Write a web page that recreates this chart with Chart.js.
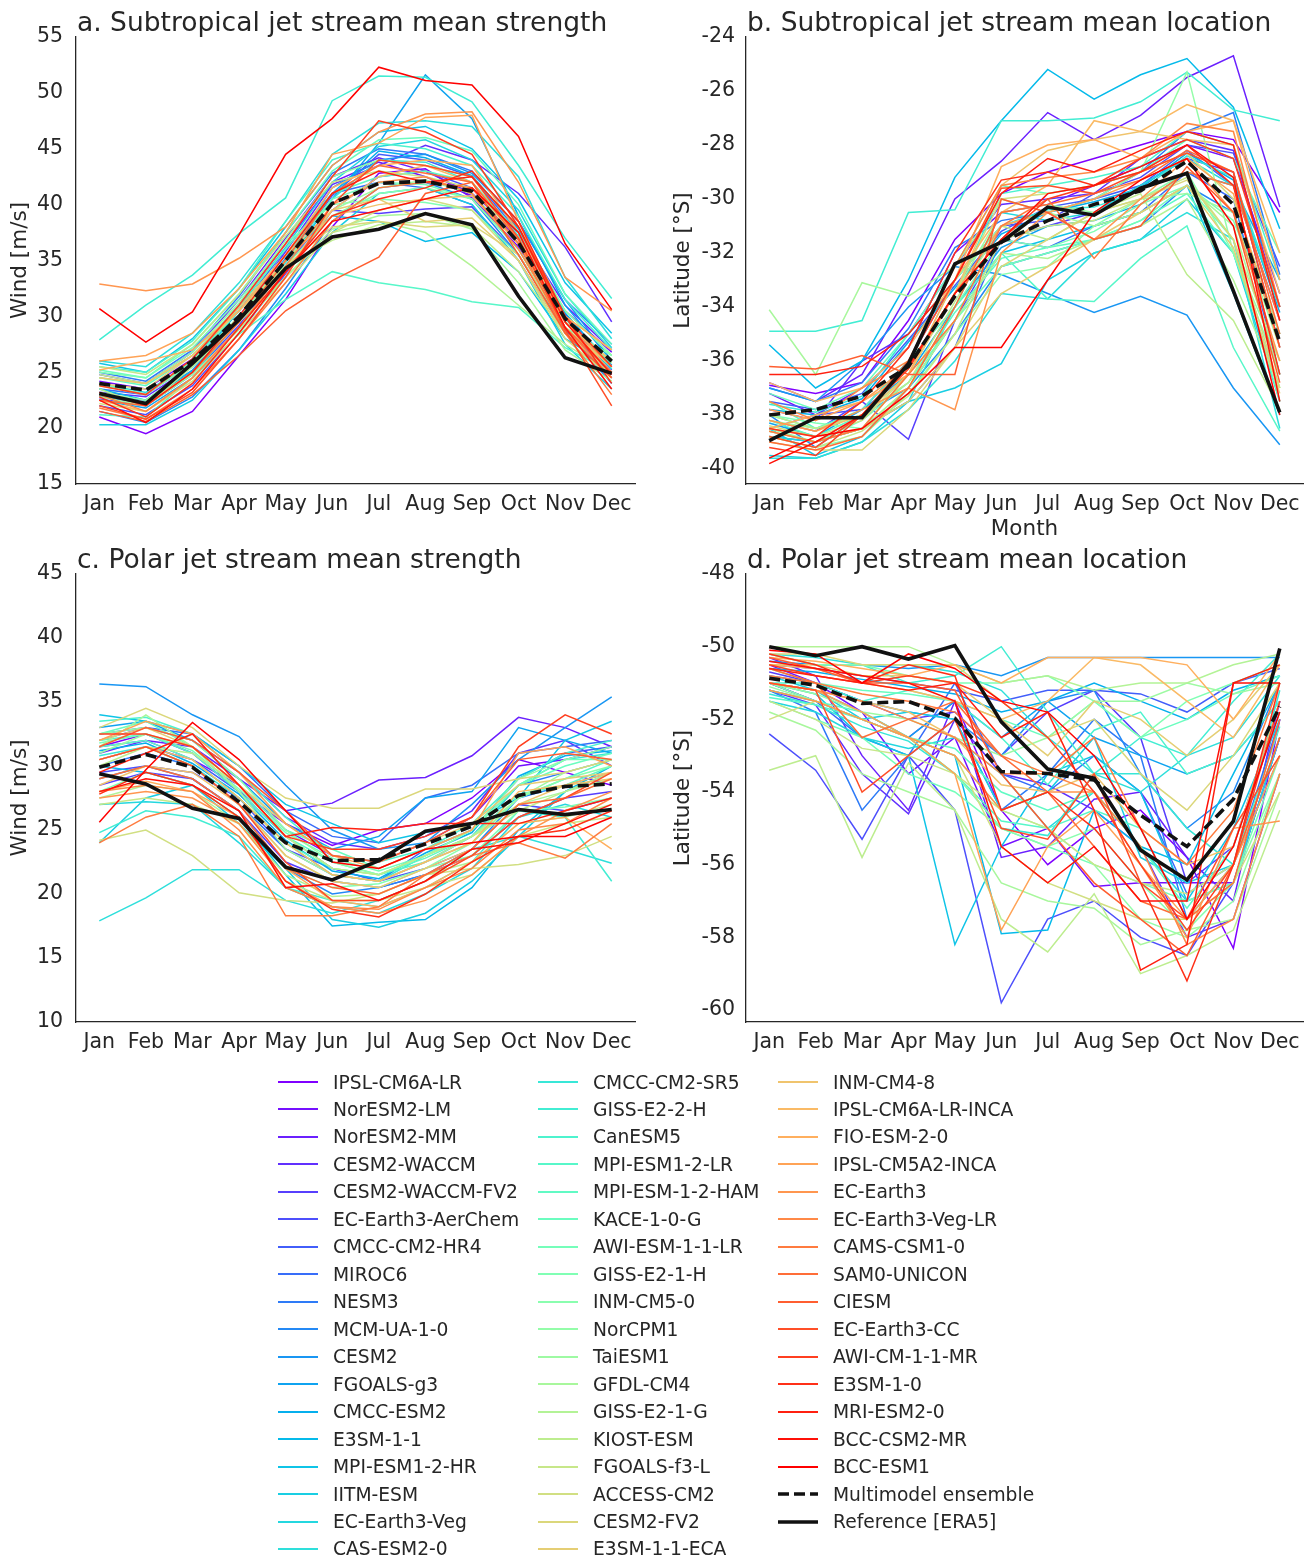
<!DOCTYPE html>
<html>
<head>
<meta charset="utf-8">
<script src="https://cdn.jsdelivr.net/npm/chart.js@4.4.1/dist/chart.umd.min.js"></script>
<style>
  body { margin: 0; background: #fff; width: 1314px; height: 1559px; position: relative; overflow: hidden; font-family: "DejaVu Sans", sans-serif; color: #262626; }
  canvas { position: absolute; }
  .row { position: absolute; height: 26px; display: flex; align-items: center; font-size: 18.7px; white-space: nowrap; }
  .row svg { margin-right: 15px; }
</style>
</head>
<body>
<canvas id="pa" width="660" height="540" style="left:0;top:0"></canvas>
<canvas id="pb" width="654" height="542" style="left:660px;top:0"></canvas>
<canvas id="pc" width="660" height="548" style="left:0;top:530px"></canvas>
<canvas id="pd" width="654" height="548" style="left:660px;top:530px"></canvas>
<div id="legend"></div>
<script>
const months = ['Jan', 'Feb', 'Mar', 'Apr', 'May', 'Jun', 'Jul', 'Aug', 'Sep', 'Oct', 'Nov', 'Dec']

const models = ['IPSL-CM6A-LR', 'NorESM2-LM', 'NorESM2-MM', 'CESM2-WACCM', 'CESM2-WACCM-FV2', 'EC-Earth3-AerChem',
  'CMCC-CM2-HR4', 'MIROC6', 'NESM3', 'MCM-UA-1-0', 'CESM2', 'FGOALS-g3', 'CMCC-ESM2', 'E3SM-1-1', 'MPI-ESM1-2-HR',
  'IITM-ESM', 'EC-Earth3-Veg', 'CAS-ESM2-0', 'CMCC-CM2-SR5', 'GISS-E2-2-H', 'CanESM5', 'MPI-ESM1-2-LR',
  'MPI-ESM-1-2-HAM', 'KACE-1-0-G', 'AWI-ESM-1-1-LR', 'GISS-E2-1-H', 'INM-CM5-0', 'NorCPM1', 'TaiESM1', 'GFDL-CM4',
  'GISS-E2-1-G', 'KIOST-ESM', 'FGOALS-f3-L', 'ACCESS-CM2', 'CESM2-FV2', 'E3SM-1-1-ECA', 'INM-CM4-8',
  'IPSL-CM6A-LR-INCA', 'FIO-ESM-2-0', 'IPSL-CM5A2-INCA', 'EC-Earth3', 'EC-Earth3-Veg-LR', 'CAMS-CSM1-0',
  'SAM0-UNICON', 'CIESM', 'EC-Earth3-CC', 'AWI-CM-1-1-MR', 'E3SM-1-0', 'MRI-ESM2-0', 'BCC-CSM2-MR', 'BCC-ESM1']

// a. subtropical jet strength [m/s], one row per model
const subStrength = [
  [21.0, 19.5, 21.5, 26.5, 31.5, 38.0, 42.8, 43.2, 40.6, 36.2, 30.2, 25.6],
  [24.2, 23.5, 26.2, 31.0, 36.5, 42.0, 43.8, 42.5, 40.8, 37.0, 30.5, 26.8],
  [24.8, 24.0, 26.8, 31.5, 37.0, 42.5, 44.2, 43.0, 41.0, 37.5, 31.0, 27.0],
  [23.2, 22.8, 25.5, 30.0, 35.8, 41.8, 43.5, 45.3, 44.0, 41.0, 36.2, 29.5],
  [22.6, 22.0, 24.8, 29.2, 34.5, 39.5, 39.2, 39.6, 39.8, 35.5, 29.0, 24.8],
  [22.0, 21.2, 23.8, 28.5, 33.8, 39.5, 42.5, 43.0, 41.5, 36.5, 29.5, 25.2],
  [22.8, 22.2, 25.0, 29.8, 35.0, 40.8, 44.5, 44.0, 42.5, 37.5, 30.0, 25.5],
  [23.5, 23.0, 25.8, 30.5, 36.0, 41.0, 42.0, 41.5, 40.0, 35.0, 28.5, 24.5],
  [25.0, 24.2, 27.0, 31.8, 37.5, 42.8, 45.0, 44.5, 43.0, 38.5, 31.5, 27.5],
  [21.5, 20.5, 22.8, 27.0, 32.5, 38.5, 41.5, 42.0, 40.5, 35.5, 28.8, 24.0],
  [23.0, 22.5, 25.2, 29.8, 35.2, 41.5, 44.0, 44.5, 42.8, 38.5, 31.5, 26.0],
  [22.5, 21.8, 24.5, 29.0, 34.5, 40.5, 45.5, 51.6, 47.7, 39.0, 31.0, 26.0],
  [22.9, 22.3, 25.1, 29.9, 35.1, 41.0, 44.8, 44.2, 42.6, 37.8, 30.3, 25.6],
  [23.5, 22.5, 25.5, 30.5, 35.5, 39.0, 38.5, 36.7, 37.5, 34.0, 28.0, 25.5],
  [25.8, 25.0, 28.0, 32.5, 38.0, 43.5, 46.5, 47.0, 45.0, 40.5, 33.0, 28.5],
  [20.3, 20.3, 22.5, 27.0, 32.0, 37.5, 41.0, 41.5, 40.0, 35.0, 27.5, 23.5],
  [24.0, 23.2, 26.0, 30.8, 36.2, 42.0, 45.2, 45.8, 44.0, 39.5, 32.0, 27.2],
  [26.0, 25.5, 28.5, 33.0, 38.5, 44.5, 47.3, 47.5, 47.0, 42.5, 33.5, 28.0],
  [22.5, 22.0, 24.8, 29.5, 34.8, 40.5, 44.0, 43.8, 42.0, 37.2, 29.8, 25.3],
  [27.9, 31.0, 33.7, 37.4, 40.6, 49.3, 51.5, 51.4, 49.2, 43.5, 37.0, 31.6],
  [25.5, 25.0, 27.8, 32.5, 38.5, 44.0, 45.5, 45.0, 43.5, 39.0, 31.5, 27.0],
  [21.2, 21.0, 24.5, 28.4, 31.5, 34.0, 33.0, 32.4, 31.3, 30.8, 27.2, 25.0],
  [24.5, 23.8, 26.5, 31.0, 36.0, 41.0, 42.5, 43.0, 42.0, 37.5, 30.5, 26.5],
  [25.2, 24.5, 27.5, 32.0, 37.5, 43.0, 45.8, 46.0, 44.8, 40.0, 32.0, 27.5],
  [24.0, 23.0, 26.0, 30.5, 35.5, 40.5, 42.0, 41.8, 40.5, 36.0, 29.5, 26.0],
  [25.0, 24.5, 27.2, 31.5, 36.5, 40.0, 40.5, 40.2, 39.5, 35.5, 29.0, 26.5],
  [23.8, 23.0, 25.8, 30.0, 34.5, 39.0, 41.0, 41.5, 40.5, 36.0, 29.0, 25.5],
  [24.5, 24.0, 26.8, 31.2, 36.8, 42.5, 44.0, 43.5, 42.5, 38.0, 30.5, 26.5],
  [23.2, 22.5, 25.5, 30.0, 35.0, 39.5, 41.5, 42.2, 41.0, 36.5, 29.5, 25.8],
  [22.8, 22.0, 24.8, 28.8, 33.5, 37.8, 39.0, 39.2, 37.8, 33.0, 27.0, 24.2],
  [23.5, 22.0, 25.5, 29.5, 33.5, 37.5, 38.5, 37.5, 34.5, 31.0, 27.5, 25.0],
  [24.8, 24.0, 26.5, 30.5, 34.5, 36.8, 38.2, 38.5, 38.0, 34.0, 28.5, 26.2],
  [25.5, 24.8, 27.5, 32.0, 37.2, 42.0, 43.0, 42.5, 41.5, 37.0, 30.0, 27.0],
  [22.2, 21.5, 24.2, 28.5, 33.0, 37.5, 39.5, 40.5, 39.5, 35.0, 28.0, 24.5],
  [23.0, 22.2, 25.0, 29.5, 34.5, 38.0, 38.5, 38.0, 38.2, 35.5, 29.0, 25.5],
  [24.0, 23.5, 26.5, 30.8, 35.5, 39.5, 40.5, 38.5, 38.8, 35.0, 28.5, 25.0],
  [24.5, 24.0, 26.5, 30.5, 35.0, 39.0, 40.0, 40.5, 40.8, 36.5, 29.5, 26.0],
  [22.5, 21.5, 24.5, 29.0, 34.0, 39.5, 42.5, 43.5, 42.0, 37.0, 29.5, 25.0],
  [25.2, 26.0, 27.0, 30.5, 35.5, 41.5, 43.5, 44.0, 43.5, 37.5, 30.0, 27.0],
  [26.0, 26.5, 28.5, 32.5, 37.5, 44.5, 45.5, 47.8, 48.0, 38.5, 29.5, 25.5],
  [32.9, 32.3, 32.9, 35.2, 38.0, 43.5, 46.5, 48.1, 48.3, 42.0, 33.5, 30.5],
  [23.0, 21.5, 24.5, 29.0, 34.5, 40.0, 42.0, 42.5, 41.0, 36.0, 29.0, 24.5],
  [21.8, 20.8, 23.5, 28.0, 33.0, 38.5, 41.5, 42.0, 41.5, 36.5, 28.5, 23.0],
  [22.5, 22.0, 25.0, 29.5, 35.0, 41.0, 43.5, 42.8, 42.0, 36.8, 29.0, 25.0],
  [21.5, 20.6, 23.0, 26.5, 30.5, 33.2, 35.3, 41.0, 42.0, 35.5, 28.5, 24.5],
  [22.0, 20.8, 23.2, 28.0, 33.5, 40.0, 44.0, 43.5, 42.5, 37.0, 28.8, 22.0],
  [23.8, 23.0, 26.2, 31.0, 36.5, 42.5, 47.5, 46.5, 44.5, 38.0, 30.0, 25.5],
  [22.8, 21.0, 24.0, 29.0, 34.0, 39.0, 40.5, 41.5, 43.0, 38.5, 30.0, 24.0],
  [23.2, 22.0, 25.0, 30.0, 35.5, 41.0, 43.0, 42.0, 42.5, 38.0, 29.5, 24.8],
  [22.5, 20.5, 23.5, 28.5, 34.0, 38.5, 39.5, 40.5, 41.5, 37.5, 29.0, 23.5],
  [30.7, 27.7, 30.4, 37.3, 44.5, 47.7, 52.3, 51.1, 50.7, 46.1, 36.5, 30.6]
]
const subStrengthMME = [24.0, 23.4, 26.0, 30.0, 35.0, 40.1, 41.9, 42.1, 41.2, 36.6, 29.8, 26.0]
const subStrengthERA5 = [23.1, 22.2, 25.8, 29.7, 34.3, 37.1, 37.8, 39.2, 38.2, 31.8, 26.3, 24.9]

// b. subtropical jet latitude [°S]
const subLocation = [
  [-36.9, -37.2, -36.8, -34.5, -31.5, -29.8, -29.0, -28.5, -28.0, -27.5, -27.8, -30.5],
  [-37.2, -38.0, -37.0, -35.5, -32.0, -30.5, -30.2, -29.5, -28.8, -28.0, -28.5, -33.5],
  [-36.8, -37.5, -36.5, -33.5, -30.0, -28.6, -26.8, -27.8, -26.9, -25.5, -24.7, -30.3],
  [-37.8, -38.2, -36.0, -35.0, -32.5, -30.2, -30.0, -29.8, -28.5, -27.8, -28.2, -34.0],
  [-38.2, -38.6, -37.5, -38.9, -34.5, -31.5, -31.0, -30.5, -29.5, -28.5, -29.0, -35.5],
  [-38.5, -38.0, -37.8, -36.0, -33.0, -31.0, -30.8, -29.8, -29.2, -28.0, -28.3, -32.5],
  [-37.5, -37.8, -37.2, -35.2, -33.2, -31.2, -30.3, -30.0, -29.5, -28.2, -29.5, -34.5],
  [-38.8, -39.0, -38.5, -37.5, -35.5, -31.5, -31.8, -31.0, -30.5, -29.0, -30.0, -36.5],
  [-37.0, -37.5, -36.8, -34.8, -31.8, -30.8, -30.5, -30.0, -29.0, -27.5, -26.8, -32.8],
  [-38.0, -39.2, -38.0, -37.0, -35.0, -32.5, -32.0, -31.5, -31.0, -29.5, -30.5, -35.0],
  [-37.0, -37.5, -36.0, -34.0, -32.5, -32.8, -33.5, -34.2, -33.6, -34.3, -37.0, -39.1],
  [-38.3, -38.8, -37.8, -36.5, -34.0, -31.8, -31.0, -30.8, -30.2, -29.0, -29.5, -33.0],
  [-37.8, -38.0, -37.4, -35.3, -33.3, -31.3, -30.5, -30.1, -29.6, -28.3, -29.3, -34.2],
  [-35.4, -37.0, -36.0, -33.0, -29.2, -27.1, -25.2, -26.3, -25.4, -24.8, -26.6, -31.1],
  [-38.5, -39.5, -38.8, -37.0, -34.5, -32.0, -31.5, -31.0, -30.5, -29.5, -33.5, -38.0],
  [-39.5, -39.6, -39.0, -37.5, -37.0, -36.1, -33.0, -32.0, -31.5, -30.0, -32.0, -37.5],
  [-38.8, -39.0, -38.5, -37.5, -34.0, -30.5, -30.8, -30.5, -29.5, -28.5, -29.5, -34.0],
  [-39.6, -39.6, -39.0, -37.8, -36.0, -33.5, -33.7, -32.0, -31.5, -30.5, -31.5, -38.5],
  [-37.6, -37.9, -37.3, -35.0, -33.0, -31.0, -30.4, -30.3, -29.7, -28.4, -29.2, -34.0],
  [-34.9, -34.9, -34.5, -30.5, -30.4, -27.1, -27.1, -27.0, -26.4, -25.3, -26.7, -27.1],
  [-38.0, -38.5, -38.0, -36.5, -33.5, -29.8, -29.5, -29.2, -28.8, -27.5, -28.0, -33.0],
  [-37.5, -38.5, -37.8, -36.0, -34.0, -32.0, -33.7, -33.8, -32.2, -31.0, -35.5, -38.6],
  [-38.2, -38.8, -38.0, -36.8, -34.2, -32.2, -31.8, -31.5, -30.8, -29.8, -32.0, -37.0],
  [-37.2, -37.8, -37.0, -35.0, -32.5, -29.5, -29.8, -29.5, -29.0, -27.8, -28.5, -32.0],
  [-38.6, -39.0, -38.2, -36.8, -34.5, -32.5, -32.0, -31.5, -30.8, -29.5, -31.5, -37.5],
  [-38.0, -38.3, -38.5, -37.0, -34.0, -31.5, -31.8, -31.2, -30.2, -29.5, -30.8, -35.0],
  [-38.8, -39.2, -38.8, -37.2, -35.0, -32.8, -32.5, -31.0, -30.0, -29.0, -32.0, -36.5],
  [-38.5, -39.0, -38.5, -36.5, -33.0, -31.0, -30.5, -30.0, -29.0, -25.3, -32.0, -36.0],
  [-38.2, -38.5, -38.0, -36.2, -33.5, -30.5, -30.2, -30.5, -30.0, -29.8, -30.5, -35.5],
  [-34.1, -36.5, -33.1, -33.6, -32.5, -30.0, -30.5, -31.0, -30.5, -29.5, -31.0, -36.5],
  [-38.5, -38.8, -38.5, -37.0, -34.5, -32.0, -32.2, -31.5, -31.0, -30.0, -33.0, -37.0],
  [-38.0, -38.5, -38.0, -36.8, -33.8, -31.0, -31.5, -30.5, -29.8, -32.8, -34.5, -37.8],
  [-38.8, -39.2, -38.6, -37.3, -35.0, -31.5, -31.0, -30.8, -30.0, -29.2, -31.5, -36.0],
  [-38.4, -38.8, -38.2, -36.5, -33.5, -30.0, -29.8, -29.5, -29.0, -28.3, -30.0, -35.0],
  [-39.0, -39.3, -39.3, -37.8, -35.5, -32.5, -31.5, -30.5, -30.0, -29.3, -31.5, -37.0],
  [-38.6, -39.0, -38.5, -37.5, -35.5, -33.5, -32.5, -31.5, -30.5, -29.5, -31.8, -37.2],
  [-38.2, -38.6, -38.0, -36.5, -33.5, -29.5, -28.2, -27.8, -27.5, -27.8, -28.0, -33.5],
  [-36.8, -37.5, -37.0, -35.5, -33.0, -30.5, -29.5, -27.1, -27.5, -26.5, -27.1, -32.0],
  [-38.5, -38.0, -37.5, -36.5, -33.0, -28.8, -28.0, -27.8, -28.5, -27.5, -27.1, -33.0],
  [-37.8, -38.2, -37.5, -36.2, -33.5, -31.0, -30.5, -30.0, -29.3, -28.5, -29.8, -35.5],
  [-38.2, -38.6, -37.8, -37.0, -37.8, -32.0, -30.5, -31.5, -30.0, -28.5, -30.5, -36.0],
  [-37.5, -38.2, -37.0, -36.0, -32.5, -29.5, -29.2, -29.0, -28.5, -27.2, -27.5, -34.0],
  [-38.6, -39.0, -38.5, -36.5, -34.5, -31.0, -30.0, -32.2, -30.2, -29.0, -29.5, -34.5],
  [-39.0, -39.3, -38.8, -37.0, -34.0, -30.5, -30.2, -29.8, -29.3, -28.2, -29.0, -35.0],
  [-36.2, -36.3, -35.8, -36.5, -36.5, -30.0, -30.5, -31.5, -31.0, -28.8, -30.5, -36.8],
  [-38.8, -39.2, -38.0, -36.0, -33.0, -29.6, -29.5, -29.8, -29.0, -28.3, -29.0, -35.5],
  [-39.2, -39.5, -38.0, -36.3, -33.5, -31.5, -30.0, -29.5, -28.5, -27.8, -28.5, -34.0],
  [-38.5, -38.8, -37.5, -35.5, -32.0, -29.3, -29.0, -29.5, -29.0, -28.0, -29.5, -36.5],
  [-36.5, -36.5, -36.2, -35.0, -33.0, -29.8, -28.5, -29.0, -28.2, -27.5, -28.0, -34.5],
  [-39.8, -39.0, -38.0, -36.2, -33.5, -31.5, -29.8, -29.5, -28.8, -28.0, -29.2, -37.5],
  [-39.6, -38.8, -38.5, -37.2, -35.5, -35.5, -33.0, -30.5, -29.3, -28.5, -31.0, -38.0]
]
const subLocationMME = [-38.0, -37.8, -37.3, -36.2, -33.6, -31.6, -30.8, -30.2, -29.7, -28.6, -30.2, -35.3]
const subLocationERA5 = [-38.95, -38.1, -38.1, -36.1, -32.4, -31.6, -30.3, -30.6, -29.6, -29.05, -33.4, -37.9]

// c. polar jet strength [m/s]
const polStrength = [
  [31.5, 32.5, 31.0, 28.0, 25.5, 23.8, 25.0, 25.5, 27.5, 30.5, 29.5, 28.5],
  [30.5, 31.5, 30.5, 28.5, 25.0, 23.0, 22.5, 24.0, 26.0, 30.0, 30.5, 31.5],
  [31.0, 32.0, 31.5, 29.0, 26.5, 27.1, 28.9, 29.1, 30.8, 33.8, 33.0, 31.5],
  [32.0, 33.0, 32.0, 29.5, 26.0, 24.0, 23.5, 24.5, 26.5, 31.0, 32.0, 30.0],
  [28.5, 29.5, 29.0, 26.5, 22.5, 21.0, 20.5, 21.5, 23.0, 26.0, 27.5, 28.0],
  [29.5, 30.0, 29.5, 27.5, 23.5, 22.0, 21.0, 22.0, 23.5, 27.0, 26.5, 27.5],
  [31.5, 32.0, 30.5, 28.0, 24.5, 22.0, 21.0, 23.5, 25.0, 29.0, 31.0, 31.5],
  [32.5, 33.0, 32.5, 30.0, 26.5, 24.5, 24.0, 27.5, 28.5, 31.0, 31.5, 32.0],
  [30.0, 31.0, 30.0, 27.0, 23.5, 21.5, 21.0, 22.5, 24.5, 28.5, 29.5, 30.5],
  [29.0, 30.0, 29.0, 26.5, 22.0, 20.0, 20.5, 21.5, 23.5, 27.5, 28.5, 29.5],
  [36.4, 36.2, 34.0, 32.3, 28.5, 25.0, 23.5, 24.0, 27.0, 30.5, 33.0, 35.4],
  [33.0, 33.5, 32.0, 29.0, 25.5, 23.5, 24.5, 27.5, 28.0, 33.0, 32.0, 31.0],
  [31.2, 31.8, 30.2, 27.8, 24.2, 21.8, 21.2, 23.2, 24.8, 29.2, 30.8, 31.2],
  [30.0, 29.5, 28.5, 26.0, 21.5, 17.5, 17.8, 18.0, 20.5, 25.0, 28.0, 30.0],
  [34.0, 33.5, 32.5, 30.0, 27.0, 25.5, 24.0, 24.8, 25.5, 27.5, 32.0, 33.5],
  [24.0, 27.5, 28.5, 25.5, 22.0, 18.0, 17.4, 18.5, 21.0, 24.5, 28.0, 29.5],
  [27.0, 27.2, 27.0, 24.0, 20.5, 19.0, 18.5, 20.0, 22.0, 26.0, 27.0, 26.0],
  [17.9, 19.7, 21.9, 21.9, 19.5, 18.5, 19.5, 21.0, 23.5, 24.5, 23.5, 22.4],
  [30.8, 31.5, 30.0, 27.5, 24.0, 21.5, 21.0, 23.0, 24.5, 28.5, 30.5, 31.0],
  [24.8, 26.5, 26.0, 24.5, 20.5, 19.5, 19.0, 20.5, 22.5, 26.5, 26.0, 21.0],
  [33.5, 33.8, 32.5, 29.5, 26.0, 23.0, 22.5, 23.5, 25.5, 29.0, 31.0, 32.0],
  [32.0, 32.5, 31.0, 28.0, 24.5, 22.5, 21.5, 22.5, 24.0, 27.5, 29.0, 30.5],
  [31.5, 32.0, 30.5, 27.5, 24.0, 22.0, 21.5, 22.8, 24.5, 27.8, 28.5, 30.0],
  [32.5, 33.5, 31.5, 28.5, 25.0, 23.5, 22.0, 23.5, 25.0, 28.5, 30.0, 31.0],
  [31.8, 32.5, 31.2, 28.2, 24.8, 22.8, 21.8, 23.0, 25.0, 28.5, 30.5, 30.5],
  [28.0, 29.5, 28.5, 26.0, 22.0, 20.5, 20.8, 22.0, 23.0, 26.5, 26.8, 27.5],
  [30.5, 31.5, 30.0, 27.0, 23.0, 21.0, 20.5, 22.0, 24.0, 27.5, 29.0, 30.0],
  [32.5, 33.0, 32.0, 29.0, 25.0, 22.5, 21.5, 23.0, 25.0, 29.0, 30.5, 31.5],
  [31.0, 32.5, 31.5, 28.5, 24.5, 22.0, 21.5, 23.0, 24.5, 27.5, 29.5, 30.5],
  [31.5, 34.0, 31.5, 28.0, 23.5, 21.5, 21.0, 22.5, 24.5, 27.0, 28.0, 29.0],
  [27.5, 28.5, 28.0, 25.5, 21.5, 19.8, 20.0, 21.5, 22.5, 25.5, 26.0, 27.0],
  [30.0, 31.5, 31.0, 28.5, 24.5, 22.0, 21.5, 23.0, 24.5, 26.5, 28.0, 29.5],
  [27.0, 27.5, 27.0, 25.5, 21.0, 19.5, 19.5, 20.5, 21.5, 24.5, 25.5, 26.0],
  [24.2, 25.0, 23.0, 20.1, 19.5, 19.3, 20.0, 21.5, 22.0, 22.3, 23.0, 24.5],
  [33.0, 34.5, 33.0, 30.0, 27.5, 26.7, 26.7, 28.2, 28.2, 29.0, 29.5, 30.5],
  [32.0, 33.0, 31.5, 28.5, 25.5, 23.0, 22.5, 24.0, 25.5, 28.5, 29.0, 29.5],
  [28.5, 30.0, 29.5, 27.0, 23.0, 21.0, 20.5, 22.0, 23.5, 27.0, 28.5, 29.0],
  [30.5, 31.5, 30.5, 27.5, 24.0, 21.5, 21.0, 22.5, 24.0, 28.0, 28.5, 29.5],
  [28.0, 28.8, 28.0, 26.0, 22.0, 19.5, 19.0, 20.5, 22.5, 25.5, 26.0, 23.5],
  [32.0, 33.5, 32.5, 29.5, 25.5, 23.0, 22.0, 23.5, 25.0, 31.0, 31.5, 30.0],
  [27.5, 28.0, 27.5, 25.5, 21.0, 19.0, 18.5, 19.5, 21.5, 24.5, 26.5, 28.0],
  [28.0, 28.5, 28.0, 25.0, 20.5, 19.0, 18.8, 20.5, 22.0, 25.0, 25.5, 27.5],
  [24.0, 26.0, 27.0, 24.5, 18.3, 18.3, 19.0, 21.5, 23.0, 24.0, 22.8, 25.5],
  [29.0, 30.0, 29.0, 26.5, 22.0, 20.5, 20.0, 21.5, 23.5, 27.0, 27.5, 29.0],
  [31.5, 33.0, 32.0, 29.5, 26.5, 23.0, 22.5, 24.0, 26.0, 30.5, 31.0, 30.5],
  [30.5, 31.5, 30.0, 27.0, 22.5, 19.5, 19.5, 21.0, 23.0, 26.0, 27.5, 29.5],
  [32.5, 32.5, 31.5, 28.5, 24.5, 23.5, 23.5, 24.5, 26.0, 31.5, 34.0, 32.5],
  [27.8, 29.5, 28.5, 26.0, 21.0, 18.8, 18.2, 20.0, 22.5, 24.5, 25.0, 26.5],
  [29.5, 31.0, 32.5, 28.5, 24.5, 25.2, 25.0, 25.5, 25.5, 25.5, 26.5, 27.5],
  [28.0, 29.0, 28.5, 26.5, 20.5, 20.8, 19.5, 21.0, 23.5, 24.0, 25.5, 27.0],
  [25.6, 29.7, 33.4, 30.5, 26.5, 22.5, 22.0, 23.5, 24.0, 24.5, 24.5, 26.0]
]
const polStrengthMME = [29.9, 30.9, 29.9, 27.2, 24.0, 22.6, 22.7, 23.9, 25.3, 27.7, 28.4, 28.6]
const polStrengthERA5 = [29.4, 28.6, 26.7, 25.9, 22.1, 21.1, 22.6, 24.9, 25.5, 26.6, 26.2, 26.6]

// d. polar jet latitude [°S]
const polLocation = [
  [-51.0, -51.5, -52.0, -52.5, -51.5, -54.5, -56.0, -55.0, -54.5, -55.8, -58.3, -52.0],
  [-50.5, -51.0, -51.8, -53.5, -52.5, -55.5, -55.0, -56.6, -56.5, -56.5, -56.5, -52.5],
  [-50.3, -50.8, -53.0, -54.5, -51.5, -55.8, -55.5, -54.2, -54.0, -55.8, -57.0, -51.5],
  [-51.2, -51.6, -53.5, -54.6, -52.0, -53.5, -53.8, -54.5, -55.5, -58.0, -57.5, -53.5],
  [-50.7, -51.0, -51.5, -52.0, -51.8, -53.0, -51.8, -51.2, -52.5, -56.5, -55.5, -51.5],
  [-52.4, -53.4, -55.3, -53.0, -54.5, -59.8, -57.5, -57.0, -58.0, -58.5, -56.5, -52.5],
  [-50.5, -50.6, -50.8, -51.0, -51.2, -51.5, -51.2, -51.2, -51.3, -51.8, -51.0, -50.6],
  [-51.0, -51.5, -52.5, -53.0, -51.0, -53.5, -54.0, -53.0, -54.0, -56.8, -56.0, -52.0],
  [-51.2, -51.8, -54.5, -53.0, -52.0, -54.5, -53.5, -52.0, -53.0, -57.5, -56.0, -53.0],
  [-50.8, -51.0, -51.5, -51.8, -52.0, -53.0, -51.5, -51.2, -53.5, -55.0, -54.0, -51.0],
  [-50.4, -50.5, -50.5, -50.6, -50.5, -50.8, -50.3, -50.3, -50.3, -50.3, -50.3, -50.3],
  [-51.0, -51.2, -51.8, -52.5, -51.5, -52.5, -51.5, -52.5, -53.0, -53.5, -53.0, -51.5],
  [-50.6, -50.7, -50.9, -51.1, -51.3, -51.8, -51.5, -51.0, -51.5, -52.0, -51.2, -50.8],
  [-51.2, -51.5, -52.0, -52.5, -53.0, -57.9, -57.8, -54.5, -55.5, -56.0, -53.5, -51.0],
  [-51.0, -51.3, -52.5, -53.0, -58.2, -55.5, -53.5, -53.0, -54.0, -57.0, -55.0, -52.0],
  [-50.8, -51.2, -52.0, -51.8, -52.0, -54.5, -54.0, -52.5, -55.8, -56.5, -56.0, -52.5],
  [-51.5, -51.8, -52.5, -52.8, -52.5, -53.5, -55.0, -54.0, -55.5, -57.0, -56.5, -52.5],
  [-50.2, -50.3, -50.5, -50.5, -50.7, -51.2, -52.5, -53.5, -54.0, -53.0, -52.5, -50.8],
  [-51.3, -51.6, -52.2, -52.6, -53.5, -55.0, -55.2, -53.5, -53.5, -55.0, -56.0, -51.2],
  [-50.2, -50.5, -50.5, -51.0, -50.8, -50.0, -51.8, -53.5, -52.5, -53.0, -51.5, -50.2],
  [-51.0, -51.0, -51.5, -51.2, -51.5, -52.5, -53.8, -52.3, -51.8, -53.5, -53.0, -51.5],
  [-51.4, -51.6, -52.0, -52.5, -53.5, -54.8, -55.0, -54.5, -55.0, -57.5, -56.0, -52.2],
  [-51.2, -51.5, -51.8, -52.5, -52.8, -54.0, -54.5, -54.0, -55.5, -57.2, -55.5, -51.8],
  [-50.6, -51.0, -51.2, -51.3, -51.5, -52.0, -52.5, -51.5, -52.5, -52.0, -51.3, -50.8],
  [-51.5, -52.0, -52.5, -53.5, -54.0, -55.0, -55.5, -56.0, -56.5, -57.0, -56.5, -53.0],
  [-50.2, -50.5, -50.5, -50.8, -51.0, -51.0, -50.8, -51.5, -52.5, -51.5, -51.0, -50.5],
  [-51.0, -51.5, -52.0, -52.5, -53.5, -55.0, -55.5, -55.0, -56.5, -57.8, -56.5, -53.5],
  [-51.1, -51.5, -52.0, -52.5, -53.0, -54.5, -55.0, -56.0, -57.5, -58.0, -57.0, -53.5],
  [-51.0, -51.3, -51.8, -52.0, -52.5, -53.0, -52.5, -51.5, -51.5, -51.0, -51.3, -51.0],
  [-51.8, -52.3, -53.5, -54.0, -54.5, -56.5, -57.0, -57.2, -58.2, -57.8, -57.5, -54.0],
  [-50.0, -50.0, -50.0, -50.0, -50.5, -51.0, -50.8, -51.2, -51.0, -51.0, -50.5, -50.2],
  [-53.4, -53.0, -55.8, -53.2, -54.5, -57.5, -58.4, -56.8, -59.0, -58.5, -57.8, -54.5],
  [-51.5, -52.0, -52.8, -53.0, -53.5, -54.5, -55.0, -56.0, -56.5, -56.8, -56.0, -52.5],
  [-52.0, -51.5, -52.0, -52.5, -53.0, -55.5, -56.5, -57.0, -57.5, -57.5, -56.5, -54.0],
  [-50.2, -50.2, -50.5, -50.5, -50.5, -51.5, -52.5, -52.0, -53.5, -54.5, -53.0, -51.0],
  [-50.5, -50.5, -50.8, -50.8, -51.0, -52.0, -53.0, -51.5, -52.0, -53.0, -52.0, -50.5],
  [-51.0, -51.2, -51.5, -51.8, -52.5, -53.8, -54.0, -53.5, -55.0, -56.0, -55.5, -51.5],
  [-50.5, -50.6, -51.0, -51.2, -51.5, -52.0, -51.5, -50.3, -50.5, -51.5, -52.5, -50.5],
  [-50.3, -50.4, -50.6, -50.8, -50.5, -51.0, -50.3, -50.3, -50.3, -50.5, -52.0, -50.2],
  [-51.0, -51.2, -51.8, -52.5, -53.5, -57.8, -55.5, -54.5, -56.0, -57.5, -56.0, -53.0],
  [-51.2, -51.5, -52.0, -52.5, -53.0, -54.5, -54.0, -54.0, -56.0, -58.0, -55.0, -54.8],
  [-51.0, -51.2, -51.5, -52.0, -52.5, -53.5, -53.5, -54.0, -55.5, -58.2, -57.5, -53.5],
  [-50.8, -51.0, -51.3, -51.5, -51.8, -53.0, -53.5, -52.5, -55.0, -56.0, -54.5, -51.0],
  [-50.6, -51.0, -52.5, -52.0, -51.5, -53.0, -54.0, -55.5, -57.0, -57.5, -56.5, -52.0],
  [-50.3, -50.6, -51.0, -51.0, -51.2, -53.5, -55.0, -56.5, -57.5, -58.5, -56.0, -52.5],
  [-51.0, -51.2, -54.0, -53.0, -52.0, -55.0, -55.3, -53.5, -56.5, -57.5, -55.0, -53.0],
  [-50.5, -50.8, -51.0, -50.8, -51.0, -51.5, -52.5, -54.0, -56.0, -57.8, -56.0, -51.5],
  [-50.2, -50.5, -51.0, -50.5, -50.8, -54.5, -54.0, -55.0, -56.5, -59.2, -56.0, -51.0],
  [-50.6, -50.8, -51.0, -51.2, -51.0, -52.5, -51.8, -54.5, -58.9, -58.2, -51.0, -50.5],
  [-50.4, -50.6, -50.8, -51.0, -51.5, -55.5, -56.5, -55.5, -57.0, -57.0, -51.0, -51.0],
  [-50.1, -50.2, -51.0, -50.2, -50.6, -51.5, -51.8, -53.0, -55.0, -57.5, -55.5, -51.8]
]
const polLocationMME = [-50.87, -51.06, -51.56, -51.51, -51.97, -53.44, -53.49, -53.67, -54.64, -55.5, -54.2, -51.65]
const polLocationERA5 = [-50.0, -50.25, -50.0, -50.34, -49.97, -52.07, -53.37, -53.62, -55.6, -56.42, -54.8, -50.05]

const ink = '#262626'
Chart.defaults.font.family = '"DejaVu Sans", sans-serif'
Chart.defaults.color = ink

// matplotlib 'rainbow' colormap
function rainbow(i) {
  const x = i / (models.length - 1)
  const r = Math.min(1, Math.abs(2 * x - 0.5))
  const g = Math.sin(Math.PI * x)
  const b = Math.cos(Math.PI * x / 2)
  return `rgb(${Math.round(r * 255)},${Math.round(g * 255)},${Math.round(b * 255)})`
}

function buildDatasets(series, mme, ref) {
  const ds = series.map((vals, i) => ({
    label: models[i], data: vals, borderColor: rainbow(i), borderWidth: 1.5,
    pointRadius: 0, tension: 0, fill: false, order: 200 - i
  }))
  ds.push({ label: 'Multimodel ensemble', data: mme, borderColor: '#111', borderWidth: 3.6,
    borderDash: [11, 5], pointRadius: 0, tension: 0, fill: false, order: 1 })
  ds.push({ label: 'Reference [ERA5]', data: ref, borderColor: '#111', borderWidth: 3.6,
    pointRadius: 0, tension: 0, fill: false, order: 0 })
  return ds
}

function makeChart(id, cfg) {
  const titlePlugin = {
    id: 'panelTitle',
    afterDraw(chart) {
      const { ctx, chartArea } = chart
      ctx.save()
      ctx.font = '26.5px "DejaVu Sans"'
      ctx.fillStyle = ink
      ctx.textAlign = 'left'
      ctx.textBaseline = 'alphabetic'
      ctx.fillText(cfg.title, chartArea.left + 1, chartArea.top - 6.5)
      ctx.restore()
    }
  }
  return new Chart(document.getElementById(id), {
    type: 'line',
    data: { labels: months, datasets: buildDatasets(cfg.series, cfg.mme, cfg.ref) },
    options: {
      responsive: false,
      animation: false,
      devicePixelRatio: 1,
      layout: { padding: { left: 0, right: cfg.right, top: cfg.top, bottom: 0 } },
      plugins: { legend: { display: false }, tooltip: { enabled: false } },
      scales: {
        x: {
          type: 'category',
          offset: true,
          grid: { display: true, drawOnChartArea: false, drawTicks: false },
          border: { color: ink, width: 1.3 },
          ticks: { font: { size: 20.5 }, padding: 8, maxRotation: 0, autoSkip: false, color: ink },
          title: { display: !!cfg.xTitle, text: cfg.xTitle || '', font: { size: 21.5 }, color: ink, padding: { top: 0, bottom: 0 } },
          afterFit(scale) { scale.height = cfg.xHeight }
        },
        y: {
          type: 'linear',
          min: cfg.yMin,
          max: cfg.yMax,
          grid: { display: true, drawOnChartArea: false, drawTicks: false },
          border: { color: ink, width: 1.3 },
          ticks: { stepSize: cfg.step, includeBounds: false, font: { size: 20.5 }, padding: cfg.tickPad, color: ink },
          title: { display: true, text: cfg.yTitle, font: { size: 21.5 }, color: ink, padding: { top: cfg.titlePad, bottom: 0 } },
          afterFit(scale) { scale.width = cfg.yWidth }
        }
      }
    },
    plugins: [titlePlugin]
  })
}

makeChart('pa', { title: 'a. Subtropical jet stream mean strength', series: subStrength, mme: subStrengthMME, ref: subStrengthERA5,
  yMin: 15, yMax: 55, step: 5, yTitle: 'Wind [m/s]', yWidth: 76, xHeight: 56, tickPad: 13, titlePad: 7.5, top: 37, right: 25 })
makeChart('pb', { title: 'b. Subtropical jet stream mean location', series: subLocation, mme: subLocationMME, ref: subLocationERA5,
  yMin: -40.556, yMax: -24, step: 2, yTitle: 'Latitude [°S]', xTitle: 'Month', yWidth: 86, xHeight: 58, tickPad: 11, titlePad: 10.5, top: 37, right: 11 })
makeChart('pc', { title: 'c. Polar jet stream mean strength', series: polStrength, mme: polStrengthMME, ref: polStrengthERA5,
  yMin: 10, yMax: 45, step: 5, yTitle: 'Wind [m/s]', yWidth: 76, xHeight: 56, tickPad: 13, titlePad: 7.5, top: 44, right: 25 })
makeChart('pd', { title: 'd. Polar jet stream mean location', series: polLocation, mme: polLocationMME, ref: polLocationERA5,
  yMin: -60.33, yMax: -48, step: 2, yTitle: 'Latitude [°S]', yWidth: 86, xHeight: 56, tickPad: 11, titlePad: 10.5, top: 44, right: 11 })

// legend, three columns filled top to bottom
const legend = document.getElementById('legend')
const entries = models.map((m, i) => ({ name: m, color: rainbow(i), width: 2, dash: null }))
entries.push({ name: 'Multimodel ensemble', color: '#111', width: 3.6, dash: '11 5' })
entries.push({ name: 'Reference [ERA5]', color: '#111', width: 3.6, dash: null })
const colX = [278, 538, 778]
const perCol = 18
entries.forEach((e, k) => {
  const col = Math.floor(k / perCol)
  const row = k % perCol
  const div = document.createElement('div')
  div.className = 'row'
  div.style.left = colX[col] + 'px'
  div.style.top = (1082 + row * 27.47 - 13) + 'px'
  const dash = e.dash ? ` stroke-dasharray="${e.dash}"` : ''
  div.innerHTML = `<svg width="40" height="26"><line x1="0" y1="13" x2="40" y2="13" stroke="${e.color}" stroke-width="${e.width}"${dash}/></svg><span>${e.name}</span>`
  legend.appendChild(div)
})
</script>
</body>
</html>
